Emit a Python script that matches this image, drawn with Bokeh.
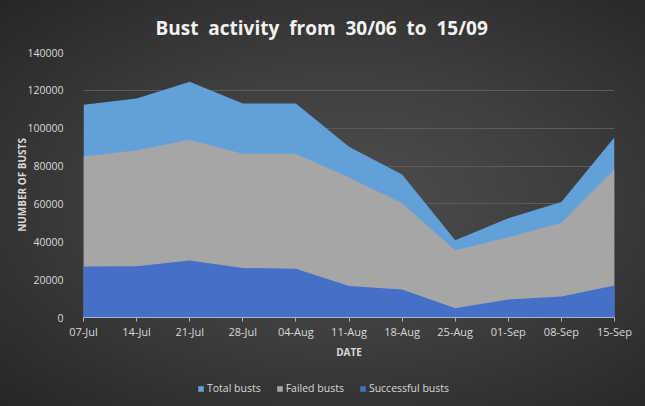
from bokeh.plotting import figure
from bokeh.models import Range1d, Legend, LegendItem, FixedTicker, NumeralTickFormatter
from bokeh.layouts import column
from bokeh.embed import file_html
from bokeh.resources import INLINE

dates = ["07-Jul", "14-Jul", "21-Jul", "28-Jul", "04-Aug", "11-Aug",
         "18-Aug", "25-Aug", "01-Sep", "08-Sep", "15-Sep"]
total_busts = [112400, 115700, 124500, 113100, 113000, 90200,
               75500, 40800, 52400, 61000, 95200]
failed_busts = [85000, 88300, 93900, 86500, 86500, 74000,
                60300, 35500, 42400, 50100, 78300]
successful_busts = [26900, 27100, 30100, 26200, 25700, 16700,
                    14800, 4900, 9500, 11100, 16900]
y_ticks = [0, 20000, 40000, 60000, 80000, 100000, 120000, 140000]
series_names = ["Total busts", "Failed busts", "Successful busts"]
series_colors = ["#62a0da", "#a6a6a6", "#4670c8"]

x = list(range(len(dates)))
series = [total_busts, failed_busts, successful_busts]
NB = "\u00a0"
title_text = (NB * 2).join(["Bust", "activity", "from", "30/06", "to", "15/09"])

p = figure(frame_width=531, frame_height=265, output_backend="svg", toolbar_location=None,
           x_range=Range1d(0, len(dates) - 1), y_range=Range1d(0, 140000),
           title=title_text)
p.background_fill_alpha = 0
p.border_fill_alpha = 0
p.outline_line_color = None
p.min_border_left = 83
p.min_border_right = 31
p.min_border_top = 52
p.min_border_bottom = 48

p.title.text_color = "#f2f2f2"
p.title.text_font = "Open Sans"
p.title.text_font_style = "bold"
p.title.text_font_size = "19px"
p.title.align = "left"
p.title.offset = 72
p.title.standoff = 24

for vals, col in zip(series, series_colors):
    p.varea(x=x, y1=0, y2=vals, fill_color=col)

# axes
p.xaxis.ticker = FixedTicker(ticks=x)
p.xaxis.major_label_overrides = {i: d for i, d in enumerate(dates)}
p.xaxis.axis_line_color = "#aab4c8"
p.xaxis.major_tick_line_color = "#aab4c8"
p.xaxis.major_tick_out = 4
p.xaxis.major_tick_in = 0
p.xaxis.minor_tick_line_color = None
p.xaxis.major_label_standoff = 2
p.xaxis.major_label_text_color = "#d9d9d9"
p.xaxis.major_label_text_font = "Open Sans"
p.xaxis.major_label_text_font_size = "11px"
p.xaxis.axis_label = "DATE"
p.xaxis.axis_label_text_color = "#d9d9d9"
p.xaxis.axis_label_text_font = "Open Sans"
p.xaxis.axis_label_text_font_style = "bold"
p.xaxis.axis_label_text_font_size = "10px"
p.xaxis.axis_label_standoff = 3

p.yaxis.ticker = FixedTicker(ticks=y_ticks)
p.yaxis.formatter = NumeralTickFormatter(format="0")
p.yaxis.axis_line_color = None
p.yaxis.major_tick_line_color = None
p.yaxis.minor_tick_line_color = None
p.yaxis.major_label_text_color = "#d9d9d9"
p.yaxis.major_label_text_font = "Open Sans"
p.yaxis.major_label_text_font_size = "10.5px"
p.yaxis.major_label_standoff = 14
p.yaxis.axis_label = "NUMBER OF BUSTS"
p.yaxis.axis_label_text_color = "#d9d9d9"
p.yaxis.axis_label_text_font = "Open Sans"
p.yaxis.axis_label_text_font_style = "bold"
p.yaxis.axis_label_text_font_size = "10px"
p.yaxis.axis_label_standoff = -5

p.xgrid.grid_line_color = None
p.ygrid.ticker = FixedTicker(ticks=y_ticks)
p.ygrid.grid_line_color = "#5c5c5c"
p.ygrid.grid_line_width = 1

# legend strip: a small figure whose view range lies outside the data,
# so its areas only serve as legend swatches
lg = figure(frame_width=645, frame_height=41, output_backend="svg", toolbar_location=None,
            x_range=Range1d(0, len(dates) - 1), y_range=Range1d(-2, -1))
lg.min_border = 0
lg.background_fill_alpha = 0
lg.border_fill_alpha = 0
lg.outline_line_color = None
lg.axis.visible = False
lg.grid.visible = False
items = []
for name, vals, col in zip(series_names, series, series_colors):
    r = lg.varea(x=x, y1=0, y2=vals, fill_color=col)
    items.append(LegendItem(label=name, renderers=[r]))
legend = Legend(items=items, orientation="horizontal", location=(197, 11))
legend.background_fill_alpha = 0
legend.border_line_color = None
legend.label_text_color = "#d9d9d9"
legend.label_text_font = "Open Sans"
legend.label_text_font_size = "10.5px"
legend.glyph_width = 7
legend.glyph_height = 7
legend.label_standoff = 3
legend.spacing = 15
legend.padding = 2
legend.margin = 0
lg.add_layout(legend, "center")

layout = column(p, lg, spacing=0,
                styles={"background": "radial-gradient(ellipse at 53% 50%, #4e4e4e 0%, #3f3f3f 45%, #262626 100%)"})

open("out.html", "w").write(file_html(layout, INLINE))
